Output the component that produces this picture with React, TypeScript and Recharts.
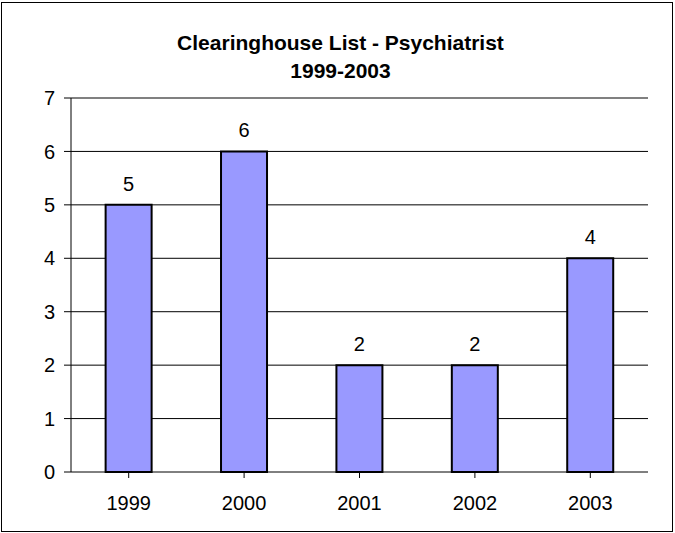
import { BarChart, Bar, XAxis, YAxis, CartesianGrid, LabelList, ReferenceLine } from 'recharts';

const years = ['1999', '2000', '2001', '2002', '2003'];
const counts = [5, 6, 2, 2, 4];
const yTicks = [0, 1, 2, 3, 4, 5, 6, 7];

const data = years.map((year, i) => ({ year, count: counts[i] }));

const font = 'Arial, "Liberation Sans", Helvetica, sans-serif';

export default function App() {
  return (
    <div style={{ position: 'absolute', left: 0, top: 0, width: 675, height: 533, background: '#fff', fontFamily: font }}>
      <div
        style={{
          position: 'absolute',
          left: 1,
          top: 2,
          width: 670,
          height: 528,
          border: '1px solid #000',
        }}
      />
      <div
        style={{
          position: 'absolute',
          left: 3,
          top: 29,
          width: 675,
          textAlign: 'center',
          fontWeight: 'bold',
          fontSize: 21,
          lineHeight: '28px',
          color: '#000',
        }}
      >
        Clearinghouse List - Psychiatrist
        <br />
        1999-2003
      </div>
      <div style={{ position: 'absolute', left: 0, top: 0 }}>
        <BarChart
          width={675}
          height={533}
          data={data}
          margin={{ top: 98, right: 27, left: 0, bottom: 31 }}
          barCategoryGap="30%"
        >
          <CartesianGrid vertical={false} stroke="#000" strokeWidth={1} horizontalValues={[1, 2, 3, 4, 5, 6]} />
          <XAxis
            dataKey="year"
            axisLine={{ stroke: '#000' }}
            tickLine={{ stroke: '#000' }}
            tickSize={6}
            tickMargin={18}
            height={30}
            tick={{ fill: '#000', fontSize: 20, fontFamily: font }}
            interval={0}
          />
          <YAxis
            domain={[0, 7]}
            ticks={yTicks}
            width={71}
            axisLine={{ stroke: '#000' }}
            tickLine={{ stroke: '#000' }}
            tickSize={7}
            tickMargin={9}
            tick={{ fill: '#000', fontSize: 20, fontFamily: font }}
            interval={0}
          />
          <YAxis
            yAxisId="right"
            orientation="right"
            domain={[0, 7]}
            width={0}
            tick={false}
            tickLine={false}
            axisLine={{ stroke: '#808080', strokeWidth: 2 }}
          />
          <ReferenceLine y={7} stroke="#808080" strokeWidth={2} />
          <Bar dataKey="count" fill="#9999FF" stroke="#000" strokeWidth={2} isAnimationActive={false}>
            <LabelList dataKey="count" position="top" offset={14} fill="#000" fontSize={20} fontFamily={font} />
          </Bar>
        </BarChart>
      </div>
    </div>
  );
}
